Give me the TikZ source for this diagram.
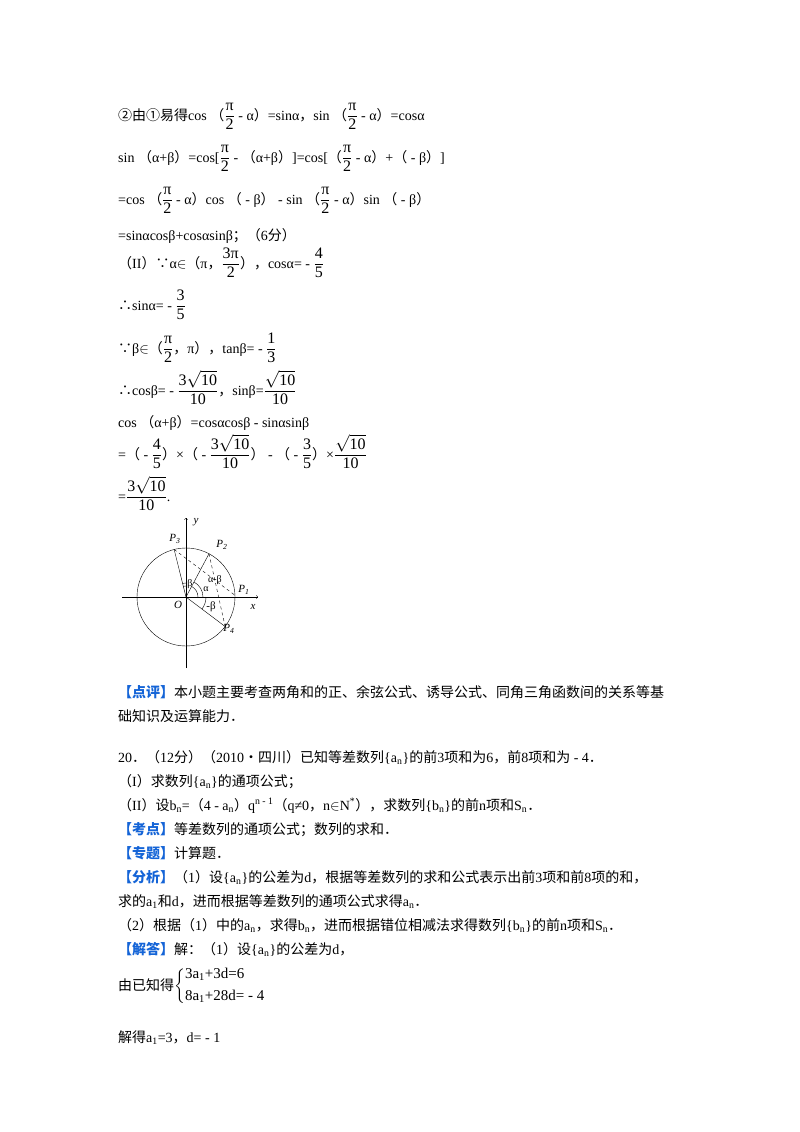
\documentclass[tikz,border=0pt]{standalone}
\usepackage{amsmath}
\usepackage{fontspec}
\setmainfont{Liberation Serif}
\newfontfamily\cjk{Noto Sans CJK SC}
\newcommand\zh[1]{{\cjk #1}}
\newcommand\fr[2]{$\dfrac{\mbox{\fontsize{16}{18}\selectfont #1}}{\mbox{\fontsize{16}{18}\selectfont #2}}$}
\newcommand\rt{$\sqrt{\mbox{10}}$}
\definecolor{kblue}{RGB}{20,100,215}
\newcommand\kt[1]{{\cjk\color{kblue}\bfseries #1}}
\tikzset{ln/.style={anchor=base west,inner sep=0pt,font=\fontsize{14}{16}\selectfont},
lab/.style={inner sep=0pt,font=\fontsize{11}{12}\selectfont\itshape}}
\begin{document}
\begin{tikzpicture}[x=1pt,y=-1pt]
\useasboundingbox[fill=white] (0,0) rectangle (800,1132);
\node[ln] (l1) at (118,120) {\zh{②由①易得}cos \zh{（}\fr{π}{2} - α\zh{）}=sinα\zh{，}sin \zh{（}\fr{π}{2} - α\zh{）}=cosα};
\node[ln] (l2) at (118,162) {sin \zh{（}α+β\zh{）}=cos[\fr{π}{2} - \zh{（}α+β\zh{）}]=cos[\zh{（}\fr{π}{2} - α\zh{）}+\zh{（} - β\zh{）}]};
\node[ln] (l3) at (118,204) {=cos \zh{（}\fr{π}{2} - α\zh{）}cos \zh{（} - β\zh{）} - sin \zh{（}\fr{π}{2} - α\zh{）}sin \zh{（} - β\zh{）}};
\node[ln] (l4) at (118,240) {=sinαcosβ+cosαsinβ\zh{；（}6\zh{分）}};
\node[ln] (l5) at (118,268) {\zh{（}II\zh{）∵}α$\in$\zh{（}π\zh{，}\fr{3π}{2}\zh{），}cosα= - \fr{4}{5}};
\node[ln] (l6) at (118,310) {\zh{∴}sinα= - \fr{3}{5}};
\node[ln] (l7) at (118,353) {\zh{∵}β$\in$\zh{（}\fr{π}{2}\zh{，}π\zh{），}tanβ= - \fr{1}{3}};
\node[ln] (l8) at (118,395) {\zh{∴}cosβ= - \fr{3\rt}{10}\zh{，}sinβ=\fr{\rt}{10}};
\node[ln] (l9) at (118,427) {cos \zh{（}α+β\zh{）}=cosαcosβ - sinαsinβ};
\node[ln] (l10) at (118,459) {=\zh{（} - \fr{4}{5}\zh{）}×\zh{（} - \fr{3\rt}{10}\zh{）} - \zh{（} - \fr{3}{5}\zh{）}×\fr{\rt}{10}};
\node[ln] (l11) at (118,501) {=\fr{3\rt}{10}.};
% figure
\coordinate (O) at (186,597);
\begin{scope}[shift={(O)},yscale=-1]
\draw (0,0) circle (49);
\draw[->] (-64,0) -- (72,0);
\draw[->] (0,-71) -- (0,79);
\coordinate (P1) at (2:49);
\coordinate (P2) at (62:49);
\coordinate (P3) at (104:49);
\coordinate (P4) at (-37:49);
\draw (O) -- (P2); \draw (O) -- (P3); \draw (O) -- (P4);
\draw[dashed] (P3) -- (P1);
\draw[dashed] (P2) -- (P4);
\draw (12,0) arc (0:62:12);
\draw (17,0) arc (0:62:17);
\draw (20,0) arc (0:-37:20);
\draw (0,14) arc (90:104:14);
\draw (0,11) arc (90:104:11);
\end{scope}
\node[lab] (p1) at (244,590) {P\textsubscript{1}};
\node[lab] (p2) at (222,545) {P\textsubscript{2}};
\node[lab] (p3) at (175,539) {P\textsubscript{3}};
\node[lab] (p4) at (229,629) {P\textsubscript{4}};
\node[lab] (o) at (178,605) {O};
\node[lab] (xl) at (253,607) {x};
\node[lab] (yl) at (196,522) {y};
\node[lab,font=\fontsize{10}{11}\selectfont] (ab) at (215,580) {α-β};
\node[lab,font=\fontsize{10}{11}\selectfont] (al) at (206,589) {α};
\node[lab,font=\fontsize{10}{11}\selectfont] (be) at (190,584) {β};
\node[lab,font=\fontsize{11}{12}\selectfont\upshape] (mb) at (211,607) {-β};
% remarks
\node[ln] (r1) at (118,697) {\kt{【点评】}\zh{本小题主要考查两角和的正、余弦公式、诱导公式、同角三角函数间的关系等基}};
\node[ln] (r2) at (118,721) {\zh{础知识及运算能力．}};
\node[ln] (q1) at (118,762) {20\zh{．（}12\zh{分）（}2010\zh{•四川）已知等差数列}\{a\textsubscript{n}\}\zh{的前}3\zh{项和为}6\zh{，前}8\zh{项和为} - 4\zh{．}};
\node[ln] (q2) at (118,786) {\zh{（}I\zh{）求数列}\{a\textsubscript{n}\}\zh{的通项公式；}};
\node[ln] (q3) at (118,810) {\zh{（}II\zh{）设}b\textsubscript{n}=\zh{（}4 - a\textsubscript{n}\zh{）}q\textsuperscript{n - 1}\zh{（}q≠0\zh{，}n$\in$N\textsuperscript{*}\zh{），求数列}\{b\textsubscript{n}\}\zh{的前}n\zh{项和}S\textsubscript{n}\zh{．}};
\node[ln] (q4) at (118,834) {\kt{【考点】}\zh{等差数列的通项公式；数列的求和．}};
\node[ln] (q5) at (118,858) {\kt{【专题】}\zh{计算题．}};
\node[ln] (q6) at (118,882) {\kt{【分析】}\zh{（}1\zh{）设}\{a\textsubscript{n}\}\zh{的公差为}d\zh{，根据等差数列的求和公式表示出前}3\zh{项和前}8\zh{项的和，}};
\node[ln] (q7) at (118,906) {\zh{求的}a\textsubscript{1}\zh{和}d\zh{，进而根据等差数列的通项公式求得}a\textsubscript{n}\zh{．}};
\node[ln] (q8) at (118,930) {\zh{（}2\zh{）根据（}1\zh{）中的}a\textsubscript{n}\zh{，求得}b\textsubscript{n}\zh{，进而根据错位相减法求得数列}\{b\textsubscript{n}\}\zh{的前}n\zh{项和}S\textsubscript{n}\zh{．}};
\node[ln] (q9) at (118,954) {\kt{【解答】}\zh{解：（}1\zh{）设}\{a\textsubscript{n}\}\zh{的公差为}d\zh{，}};
\node[ln] (q10) at (118,990) {\zh{由已知得}$\left\{\begin{array}{@{}l}\mbox{\fontsize{15}{17}\selectfont 3a\textsubscript{1}+3d=6}\\[6pt]\mbox{\fontsize{15}{17}\selectfont 8a\textsubscript{1}+28d= - 4}\end{array}\right.$};
\node[ln] (q11) at (118,1042) {\zh{解得}a\textsubscript{1}=3\zh{，}d= - 1};
\end{tikzpicture}
\end{document}
